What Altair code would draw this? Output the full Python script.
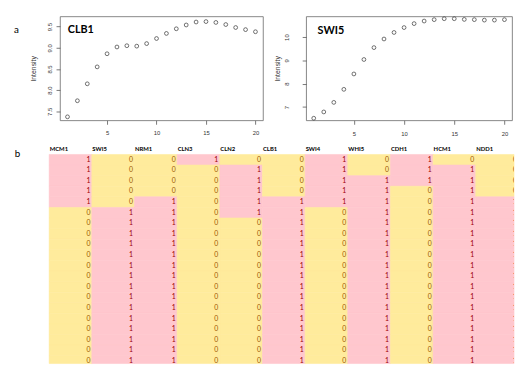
import altair as alt
import pandas as pd

# ---------------- data ----------------
time_points = list(range(1, 21))
clb1_intensity = [7.37, 7.75, 8.15, 8.55, 8.86, 9.02, 9.05, 9.04, 9.10, 9.22,
                  9.34, 9.45, 9.54, 9.61, 9.62, 9.60, 9.55, 9.48, 9.43, 9.38]
swi5_intensity = [6.52, 6.79, 7.20, 7.76, 8.42, 9.04, 9.55, 9.92, 10.20, 10.41,
                  10.58, 10.69, 10.75, 10.79, 10.79, 10.76, 10.75, 10.73, 10.73, 10.75]

gene_names = ["MCM1", "SWI5", "NRM1", "CLN3", "CLN2", "CLB1", "SWI4", "WHI5", "CDH1", "HCM1", "NDD1"]
mcm1 = [1, 1, 1, 1, 1, 0, 0, 0, 0, 0, 0, 0, 0, 0, 0, 0, 0, 0, 0, 0]
swi5 = [0, 0, 0, 0, 0, 1, 1, 1, 1, 1, 1, 1, 1, 1, 1, 1, 1, 1, 1, 1]
nrm1 = [0, 0, 0, 0, 1, 1, 1, 1, 1, 1, 1, 1, 1, 1, 1, 1, 1, 1, 1, 1]
cln3 = [1, 0, 0, 0, 0, 0, 0, 0, 0, 0, 0, 0, 0, 0, 0, 0, 0, 0, 0, 0]
cln2 = [0, 1, 1, 1, 1, 1, 0, 0, 0, 0, 0, 0, 0, 0, 0, 0, 0, 0, 0, 0]
clb1 = [0, 0, 0, 0, 1, 1, 1, 1, 1, 1, 1, 1, 1, 1, 1, 1, 1, 1, 1, 1]
swi4 = [1, 1, 1, 1, 1, 0, 0, 0, 0, 0, 0, 0, 0, 0, 0, 0, 0, 0, 0, 0]
whi5 = [0, 0, 1, 1, 1, 1, 1, 1, 1, 1, 1, 1, 1, 1, 1, 1, 1, 1, 1, 1]
cdh1 = [1, 1, 1, 0, 0, 0, 0, 0, 0, 0, 0, 0, 0, 0, 0, 0, 0, 0, 0, 0]
hcm1 = [0, 1, 1, 1, 1, 1, 1, 1, 1, 1, 1, 1, 1, 1, 1, 1, 1, 1, 1, 1]
ndd1 = [0, 0, 0, 0, 1, 1, 1, 1, 1, 1, 1, 1, 1, 1, 1, 1, 1, 1, 1, 1]

state_columns = [mcm1, swi5, nrm1, cln3, cln2, clb1, swi4, whi5, cdh1, hcm1, ndd1]

# ---------------- scatter panels ----------------
AXIS_FONT = "Liberation Sans"


def panel(values, name, ydomain, yticks, yfmt, width, lab_pad, title_pad, xlab_pad,
          title_x, title_y, letter=None):
    df = pd.DataFrame({"t": time_points, "v": values})
    pts = alt.Chart(df).mark_point(
        shape="circle", filled=False, size=15, color="#333333", strokeWidth=0.7, opacity=1
    ).encode(
        x=alt.X("t:Q", scale=alt.Scale(domain=[0.24, 20.76], nice=False, zero=False),
                axis=alt.Axis(values=[5, 10, 15, 20], title=None, grid=False, domain=False,
                              tickSize=4, tickColor="#555555", tickWidth=0.8,
                              labelFontSize=6, labelFont=AXIS_FONT, labelColor="#333333",
                              labelPadding=xlab_pad)),
        y=alt.Y("v:Q", scale=alt.Scale(domain=ydomain, nice=False, zero=False),
                axis=alt.Axis(values=yticks, format=yfmt, title="Intensity",
                              titleFont=AXIS_FONT, titleFontSize=7, titleFontWeight="normal",
                              titleColor="#333333", titlePadding=title_pad,
                              grid=False, domain=False, tickSize=4, tickColor="#555555",
                              tickWidth=0.8, labelFontSize=6, labelFont=AXIS_FONT,
                              labelColor="#333333", labelAngle=270, labelAlign="center",
                              labelBaseline="bottom", labelPadding=lab_pad)),
    )
    ttl = alt.Chart(pd.DataFrame({"s": [name]})).mark_text(
        align="left", baseline="middle", font="Lato", fontSize=11, fontWeight="bold", color="#000000"
    ).encode(x=alt.value(title_x), y=alt.value(title_y), text="s:N")
    layers = [pts, ttl]
    if letter:
        lt = alt.Chart(pd.DataFrame({"s": [letter]})).mark_text(
            align="left", baseline="middle", font="Lato", fontSize=10, color="#000000"
        ).encode(x=alt.value(-47), y=alt.value(13.5), text="s:N")
        layers.append(lt)
    return alt.layer(*layers).properties(
        width=width, height=106,
        view=alt.ViewBackground(stroke="#666666", strokeWidth=0.8),
    )


left = panel(clb1_intensity, "CLB1", [7.287, 9.743], [7.5, 8.0, 8.5, 9.0, 9.5], ".1f",
             207, 4, 10, 5, 8, 13.5, letter="a")
right = panel(swi5_intensity, "SWI5", [6.43, 10.89], [7, 8, 9, 10], "d",
              210, 13, 3, 6, 11.7, 14.5)

top = alt.hconcat(left, right, spacing=44, bounds="flush")

# ---------------- state table ----------------
rows = []
for ci, (g, vals) in enumerate(zip(gene_names, state_columns)):
    for ri, v in enumerate(vals):
        rows.append({"gene": g, "c0": ci, "c1": ci + 1, "r0": ri, "r1": ri + 1,
                     "rm": ri + 0.5, "label": str(v)})
cells = pd.DataFrame(rows)
heads = pd.DataFrame({"gene": gene_names, "c0": list(range(len(gene_names))),
                      "hy": [-0.5] * len(gene_names)})

HX_DOMAIN = [0, 10.8966]
HX_RANGE = [-11, 463]
HY_DOMAIN = [-1, 19.74]


def xs(clamp):
    return alt.Scale(domain=HX_DOMAIN, range=HX_RANGE, nice=False, zero=False, clamp=clamp)


def ys():
    return alt.Scale(domain=HY_DOMAIN, reverse=True, nice=False, zero=False, clamp=True)


fill_scale = alt.Scale(domain=["0", "1"], range=["#FFEB9C", "#FFC7CE"])
rects = alt.Chart(cells).mark_rect(strokeWidth=0.6).encode(
    x=alt.X("c0:Q", scale=xs(True), axis=None),
    x2="c1:Q",
    y=alt.Y("r0:Q", scale=ys(), axis=None),
    y2="r1:Q",
    color=alt.Color("label:N", scale=fill_scale, legend=None),
    stroke=alt.Stroke("label:N", scale=fill_scale, legend=None),
)

txt = alt.Chart(cells).mark_text(
    align="right", baseline="middle", dx=-1.5, font="Lato", fontSize=7, clip=True
).encode(
    x=alt.X("c1:Q", scale=xs(False), axis=None),
    y=alt.Y("rm:Q", scale=ys(), axis=None),
    text="label:N",
    color=alt.Color("label:N", scale=alt.Scale(domain=["0", "1"], range=["#9C5700", "#9C0006"]),
                    legend=None),
)

hdr = alt.Chart(heads).mark_text(
    align="left", baseline="middle", dx=0.5, font="Lato", fontSize=6, fontWeight="bold",
    color="#000000"
).encode(
    x=alt.X("c0:Q", scale=xs(True), axis=None),
    y=alt.Y("hy:Q", scale=ys(), axis=None),
    text="gene:N",
)

blab = alt.Chart(pd.DataFrame({"s": ["b"]})).mark_text(
    align="left", baseline="middle", font="Lato", fontSize=10, color="#000000"
).encode(x=alt.value(-46), y=alt.value(10.5), text="s:N")

heat = alt.layer(rects, txt, hdr, blab).resolve_scale(
    x="independent", y="independent", color="independent", stroke="independent"
).properties(width=463, height=224)

chart = alt.vconcat(top, heat, spacing=6).properties(
    padding={"left": 5, "top": 3, "right": 0, "bottom": 0}
).configure_view(stroke="transparent")

chart.save("out.html", embed_options={"renderer": "svg", "actions": False})
